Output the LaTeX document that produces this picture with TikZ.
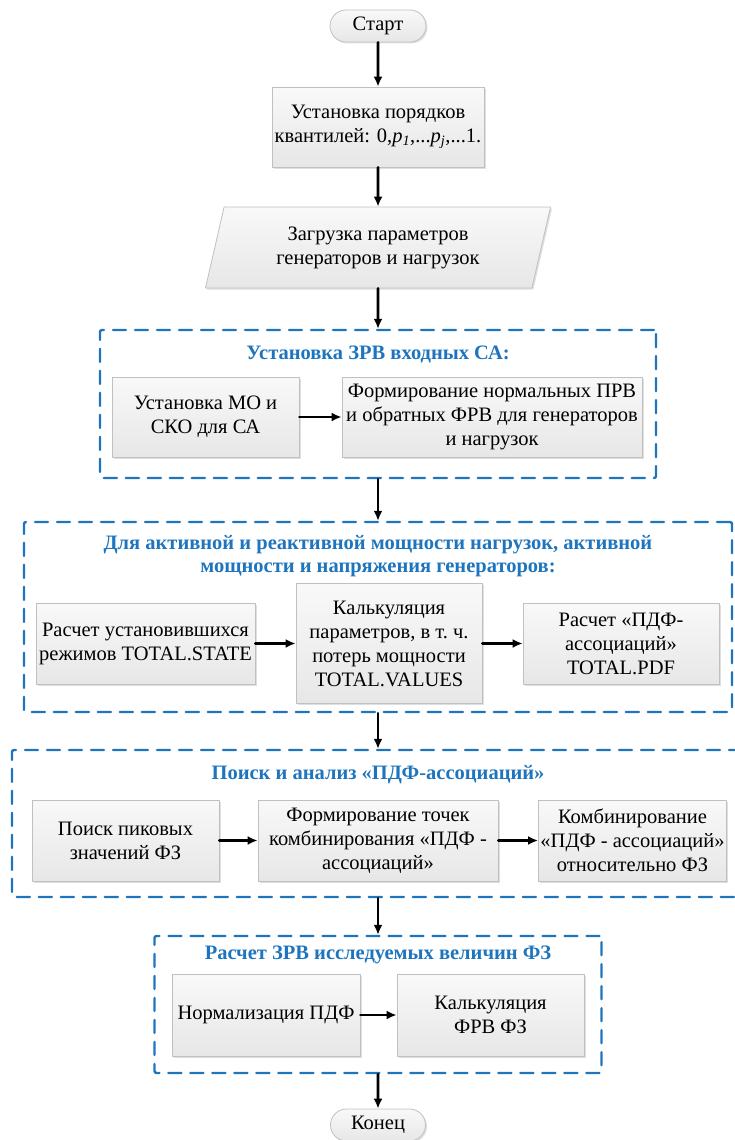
\documentclass[tikz,border=0pt]{standalone}
\usepackage{fontspec}
\setmainfont{Liberation Serif}
\usetikzlibrary{arrows.meta,shapes.geometric,shapes.misc,shadows}

\definecolor{grpblue}{RGB}{30,117,189}
\definecolor{boxedge}{RGB}{192,192,192}
\newcommand{\pq}[1]{\textit{p}\textsubscript{\textit{#1}}}

\begin{document}
\begin{tikzpicture}[x=1pt,y=-1pt,line cap=round,line join=round,
  every node/.style={font=\rmfamily\fontsize{20.5}{24}\selectfont,align=center},
  box/.style={rectangle,draw=boxedge,line width=0.8pt,top color=gray!5,bottom color=gray!19,
    drop shadow={shadow xshift=1.5pt,shadow yshift=-1.5pt,opacity=0.25},inner sep=2pt},
  term/.style={box,rounded rectangle,minimum width=98,minimum height=32,inner sep=1pt},
  grp/.style={rectangle,draw=grpblue,line width=2.4pt,dash pattern=on 13pt off 9pt,rounded corners=2pt},
  grptitle/.style={text=grpblue,font=\rmfamily\bfseries\fontsize{20.5}{23}\selectfont},
  flow/.style={-{Latex[length=10pt,width=9pt]},line width=2.8pt}]
  \useasboundingbox (0,0) rectangle (735,1140);

  % start, quantiles, loading
  \node[term] (start) at (378,26) {Старт};
  \node[box,minimum width=212,minimum height=80] (quant) at (378,127)
    {Установка порядков\\квантилей: 0,\pq{1},...\pq{j},...1.};
  \node[box,trapezium,trapezium left angle=68,trapezium right angle=112,trapezium stretches body,
    minimum width=345,minimum height=81] (load) at (378,247.5)
    {Загрузка параметров\\генераторов и нагрузок};

  % input distributions
  \node[grp,minimum width=556,minimum height=148] (grp1) at (378,404) {};
  \node[grptitle] (t1) at (378,354) {Установка ЗРВ входных СА:};
  \node[box,minimum width=187,minimum height=80] (mo) at (205.5,417) {Установка МО и\\СКО для СА};
  \node[box,minimum width=300,minimum height=80] (prv) at (492,417)
    {Формирование нормальных ПРВ\\и обратных ФРВ для генераторов\\и нагрузок};

  % power flow
  \node[grp,minimum width=708,minimum height=190] (grp2) at (378,617) {};
  \node[grptitle] (t2) at (378,556)
    {Для активной и реактивной мощности нагрузок, активной\\мощности и напряжения генераторов:};
  \node[box,minimum width=219,minimum height=81] (state) at (145.5,643.5)
    {Расчет установившихся\\режимов TOTAL.STATE};
  \node[box,minimum width=186,minimum height=120] (values) at (389,643.5)
    {Калькуляция\\параметров, в т.~ч.\\потерь мощности\\TOTAL.VALUES};
  \node[box,minimum width=196,minimum height=81] (pdf) at (621,643.5)
    {Расчет «ПДФ-\\ассоциаций»\\TOTAL.PDF};

  % search
  \node[grp,minimum width=732,minimum height=147] (grp3) at (378,823.5) {};
  \node[grptitle] (t3) at (378,775) {Поиск и анализ «ПДФ-ассоциаций»};
  \node[box,minimum width=187,minimum height=81] (peak) at (125.5,840.5) {Поиск пиковых\\значений ФЗ};
  \node[box,minimum width=240,minimum height=81] (points) at (378,840.5)
    {Формирование точек\\комбинирования «ПДФ -\\ассоциаций»};
  \node[box,minimum width=187,minimum height=81] (comb) at (632.5,840.5)
    {Комбинирование\\«ПДФ - ассоциаций»\\относительно ФЗ};

  % result
  \node[grp,minimum width=447,minimum height=137] (grp4) at (378,1004.5) {};
  \node[grptitle] (t4) at (378,955) {Расчет ЗРВ исследуемых величин ФЗ};
  \node[box,minimum width=188,minimum height=82] (norm) at (266,1015) {Нормализация ПДФ};
  \node[box,minimum width=187,minimum height=82] (frv) at (490.5,1015) {Калькуляция\\ФРВ ФЗ};
  \node[term,minimum width=97] (stop) at (378,1125) {Конец};

  \draw[flow] (start) -- (quant);
  \draw[flow] (quant) -- (load);
  \draw[flow] (load) -- (grp1);
  \draw[flow] (mo) -- (prv);
  \draw[flow] (grp1) -- (grp2);
  \draw[flow] (state) -- (values);
  \draw[flow] (values) -- (pdf);
  \draw[flow] (grp2) -- (grp3);
  \draw[flow] (peak) -- (points);
  \draw[flow] (points) -- (comb);
  \draw[flow] (grp3) -- (grp4);
  \draw[flow] (norm) -- (frv);
  \draw[flow] (grp4) -- (stop);
\end{tikzpicture}
\end{document}
